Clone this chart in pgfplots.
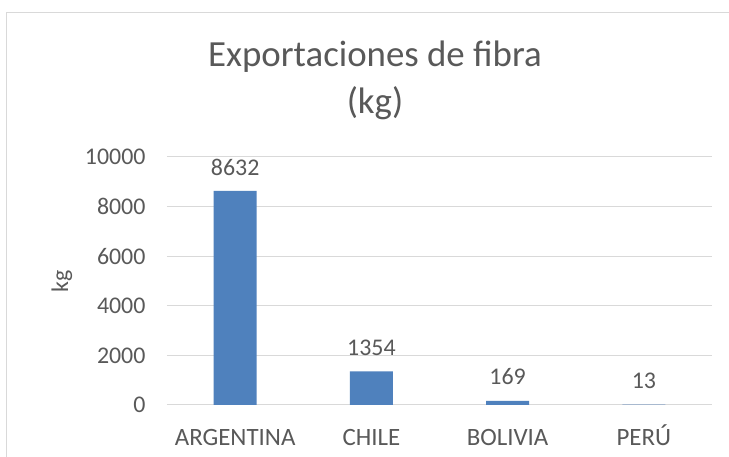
\documentclass[border=0pt]{standalone}
\usepackage{pgfplots}
\pgfplotsset{compat=1.18}
\usepackage{fontspec}
\setmainfont{Carlito}
\definecolor{barblue}{HTML}{4F81BD}
\definecolor{txtgray}{HTML}{595959}
\definecolor{gridgray}{HTML}{D9D9D9}
\begin{document}
\begin{tikzpicture}
  % page = 729 x 457 bp, origin at lower-left corner of plot area
  \path[use as bounding box] (-167bp,-52bp) rectangle (562bp,405bp);
  \fill[white] (-167bp,-52bp) rectangle (562bp,405bp);
  \draw[gridgray, line width=1bp] (-160bp,-52bp) -- (-160bp,392bp) -- (562bp,392bp);
  \begin{axis}[
      at={(0,0)}, anchor=south west,
      scale only axis,
      width=545bp, height=248bp,
      ybar, bar width=43bp,
      xmin=-0.5, xmax=3.5,
      ymin=0, ymax=10000,
      xtick=data,
      xticklabels={ARGENTINA,CHILE,BOLIVIA,PERÚ},
      ytick={0,2000,4000,6000,8000,10000},
      scaled y ticks=false,
      /pgf/number format/1000 sep={},
      /pgf/number format/assume math mode=true,
      axis line style={draw=none},
      major tick length=0pt,
      ymajorgrids=true,
      grid style={gridgray, line width=1bp},
      yticklabel style={font=\fontsize{24}{24}\selectfont, text=txtgray, xshift=-18bp},
      xticklabel style={font=\fontsize{25}{25}\selectfont, text=txtgray, anchor=base, yshift=-40bp},
      ylabel={kg},
      ylabel style={at={(axis description cs:-0.193,0.5)}, anchor=center,
        font=\fontsize{24}{24}\selectfont, text=txtgray},
      nodes near coords,
      nodes near coords style={anchor=center, yshift=24bp,
        font=\fontsize{24}{24}\selectfont, text=txtgray},
    ]
    \addplot[fill=barblue, draw=none] coordinates {(0,8632) (1,1354) (2,169) (3,13)};
  \end{axis}
  \node[text=txtgray, font=\fontsize{37}{37}\selectfont] at (208bp,348bp) {Exportaciones de fibra};
  \node[text=txtgray, font=\fontsize{37}{37}\selectfont] at (208bp,302bp) {(kg)};
\end{tikzpicture}
\end{document}
